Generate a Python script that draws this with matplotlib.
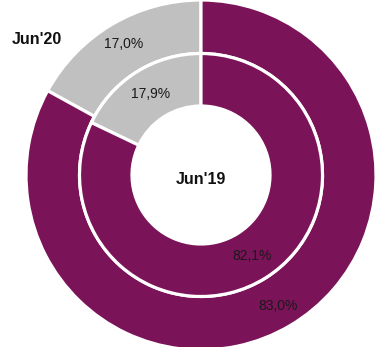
import matplotlib
matplotlib.use("Agg")
import matplotlib.pyplot as plt
import numpy as np

plt.rcParams['font.family'] = ['Liberation Sans', 'DejaVu Sans']

categories = ["Other", "Main"]
jun20_values = [17.0, 83.0]
jun19_values = [17.9, 82.1]
jun20_labels = ["17,0%", "83,0%"]
jun19_labels = ["17,9%", "82,1%"]
series_names = ["Jun'20", "Jun'19"]
colors = ["#C0C0C0", "#7A1357"]

W, H = 375, 347
fig = plt.figure(figsize=(W / 100, H / 100), dpi=100)
ax = fig.add_axes([0, 0, 1, 1])

R = 175.0  # px per unit
cx, cy = 201.0, 175.0

outer_r, outer_w = 1.0, (175 - 121.5) / R
inner_r, inner_w = 121.5 / R, (121.5 - 69) / R

wo, _ = ax.pie(jun20_values, radius=outer_r, colors=colors, startangle=90,
               counterclock=True,
               wedgeprops=dict(width=outer_w, edgecolor="white", linewidth=2.3))
wi, _ = ax.pie(jun19_values, radius=inner_r, colors=colors, startangle=90,
               counterclock=True,
               wedgeprops=dict(width=inner_w, edgecolor="white", linewidth=2.3))

def label(wedges, labels, rmid):
    for w, t in zip(wedges, labels):
        a = np.deg2rad((w.theta1 + w.theta2) / 2)
        ax.text(rmid * np.cos(a), rmid * np.sin(a), t, ha="center", va="center",
                fontsize=10, color="#1a1a1a")

label(wo, jun20_labels, outer_r - outer_w / 2 + 0.02)
label(wi, jun19_labels, inner_r - inner_w / 2)

ax.text(0, -5 / R, series_names[1], ha="center", va="center", fontsize=11.5,
        fontweight="bold", color="#111111")
ax.text((37 - cx) / R, (cy - 40) / R, series_names[0], ha="center", va="center",
        fontsize=11.5, fontweight="bold", color="#111111")

ax.set_xlim(-cx / R, (W - cx) / R)
ax.set_ylim(-(H - cy) / R, cy / R)
ax.set_aspect("auto")
ax.axis("off")

fig.savefig("out.png", dpi=100)
